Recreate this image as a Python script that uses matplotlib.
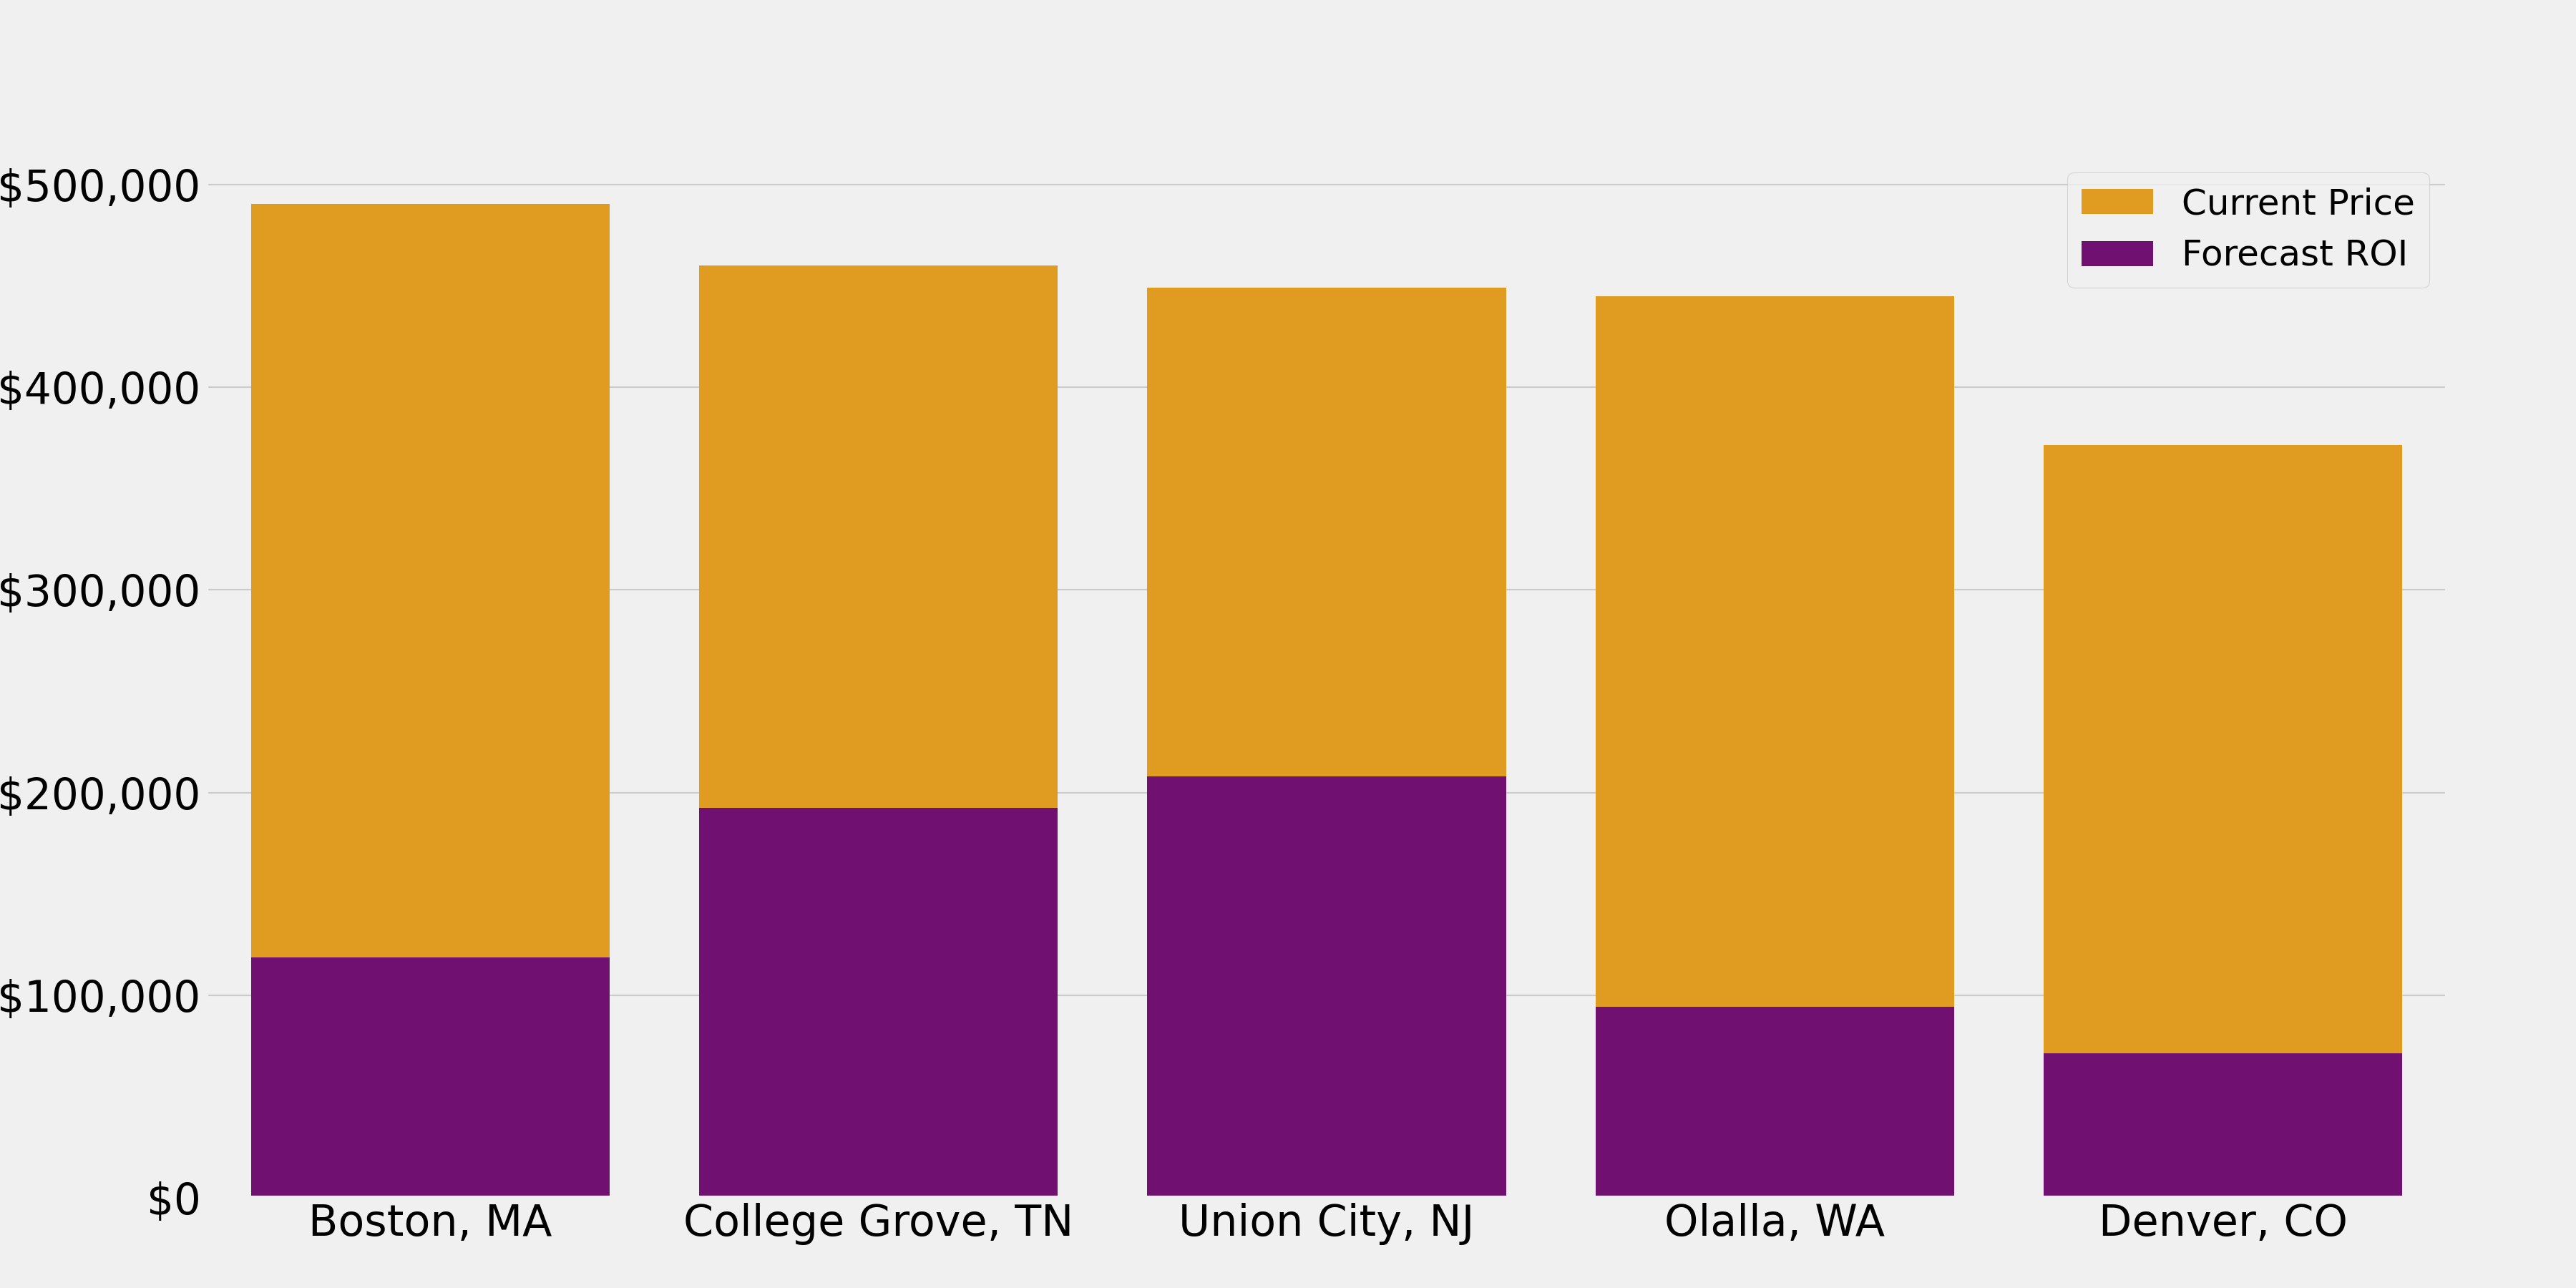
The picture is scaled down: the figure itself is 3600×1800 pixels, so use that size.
import colorsys
import matplotlib
matplotlib.use("Agg")
import matplotlib.pyplot as plt
from matplotlib.ticker import FuncFormatter
from matplotlib.colors import to_rgb

cities = ["Boston, MA", "College Grove, TN", "Union City, NJ", "Olalla, WA", "Denver, CO"]
current_price = [490300, 460000, 449000, 444800, 371600]
forecast_roi = [118600, 192500, 208000, 94200, 71300]

plt.style.use("fivethirtyeight")
plt.rcParams["font.family"] = ["DejaVu Sans"]


def desat(c, p=0.75):
    h, l, s = colorsys.rgb_to_hls(*to_rgb(c))
    return colorsys.hls_to_rgb(h, l, s * p)


fig, ax = plt.subplots(figsize=(24, 12), dpi=150)
x = list(range(len(cities)))
ax.bar(x, current_price, width=0.8, color=desat("orange"), label="Current Price",
       edgecolor="none", linewidth=0)
ax.bar(x, forecast_roi, width=0.8, color=desat("purple"), label="Forecast ROI",
       edgecolor="none", linewidth=0)

ax.set_xticks(x)
ax.set_xticklabels(cities)
ax.set_xlim(-0.5, len(cities) - 0.5)
ax.yaxis.set_major_formatter(FuncFormatter(lambda v, p: f"${v:,.0f}"))
ax.tick_params(axis="x", labelsize=29)
ax.tick_params(axis="y", labelsize=28.6)
ax.grid(axis="x", visible=False)
ax.legend(loc="upper right", fontsize=24)

fig.savefig("out.png", dpi=150, facecolor="#f0f0f0")
